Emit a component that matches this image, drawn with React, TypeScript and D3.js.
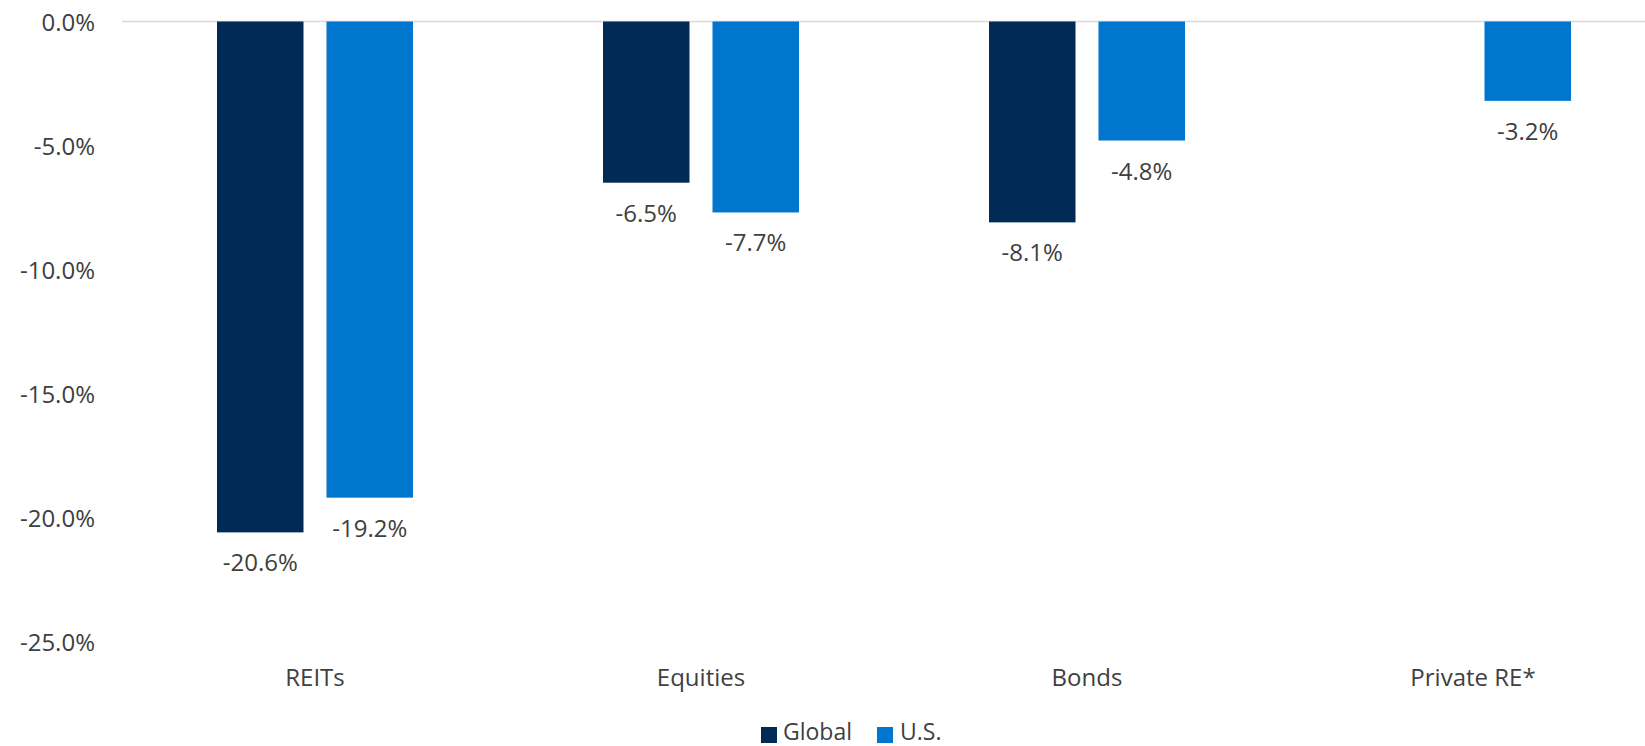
import React from "react";
import * as d3 from "d3";

const categories = ["REITs", "Equities", "Bonds", "Private RE*"];
const seriesNames = ["Global", "U.S."];
const globalValues: (number | null)[] = [-20.6, -6.5, -8.1, null];
const usValues: (number | null)[] = [-19.2, -7.7, -4.8, -3.2];
const yTicks = [0, -5, -10, -15, -20, -25];
const colors = ["#012A56", "#0076CF"];

const W = 1645;
const H = 746;
const FONT = "'Open Sans', sans-serif";
const TEXT = "#404040";

const fmt = (v: number) => v.toFixed(1) + "%";

export default function App() {
  const x = d3.scaleBand<string>().domain(categories).range([122, 1666]).paddingInner(0).paddingOuter(0);
  const y = d3.scaleLinear().domain([0, -25]).range([21.5, 641.5]);
  const barW = 86.5;
  const gap = 23;
  const series = [globalValues, usValues];

  return (
    <div style={{ position: "absolute", left: 0, top: 0 }}>
      <svg width={W} height={H} style={{ display: "block", background: "#fff" }} fontFamily={FONT}>
        {yTicks.map((t) => (
          <text key={t} x={95} y={y(t) + 9} textAnchor="end" fontSize={24} fill={TEXT}>
            {fmt(t)}
          </text>
        ))}
        <line x1={122} x2={W} y1={y(0)} y2={y(0)} stroke="#D9D9D9" strokeWidth={1.5} />
        {categories.map((c, ci) => {
          const cx = (x(c) as number) + x.bandwidth() / 2;
          return (
            <g key={c}>
              {series.map((vals, si) => {
                const v = vals[ci];
                if (v === null) return null;
                const bx = si === 0 ? cx - gap / 2 - barW : cx + gap / 2;
                const y0 = y(0);
                const y1 = y(v);
                return (
                  <g key={si}>
                    <rect x={bx} y={y0} width={barW} height={y1 - y0} fill={colors[si]} />
                    <text x={bx + barW / 2} y={y1 + 39} textAnchor="middle" fontSize={24} fill={TEXT}>
                      {fmt(v)}
                    </text>
                  </g>
                );
              })}
              <text x={cx} y={686} textAnchor="middle" fontSize={24} fill={TEXT}>
                {c}
              </text>
            </g>
          );
        })}
        <g>
          <rect x={761} y={727} width={16} height={16} fill={colors[0]} />
          <text x={783} y={740} fontSize={23} fill={TEXT}>{seriesNames[0]}</text>
          <rect x={877} y={727} width={16} height={16} fill={colors[1]} />
          <text x={900} y={740} fontSize={23} fill={TEXT}>{seriesNames[1]}</text>
        </g>
      </svg>
    </div>
  );
}
